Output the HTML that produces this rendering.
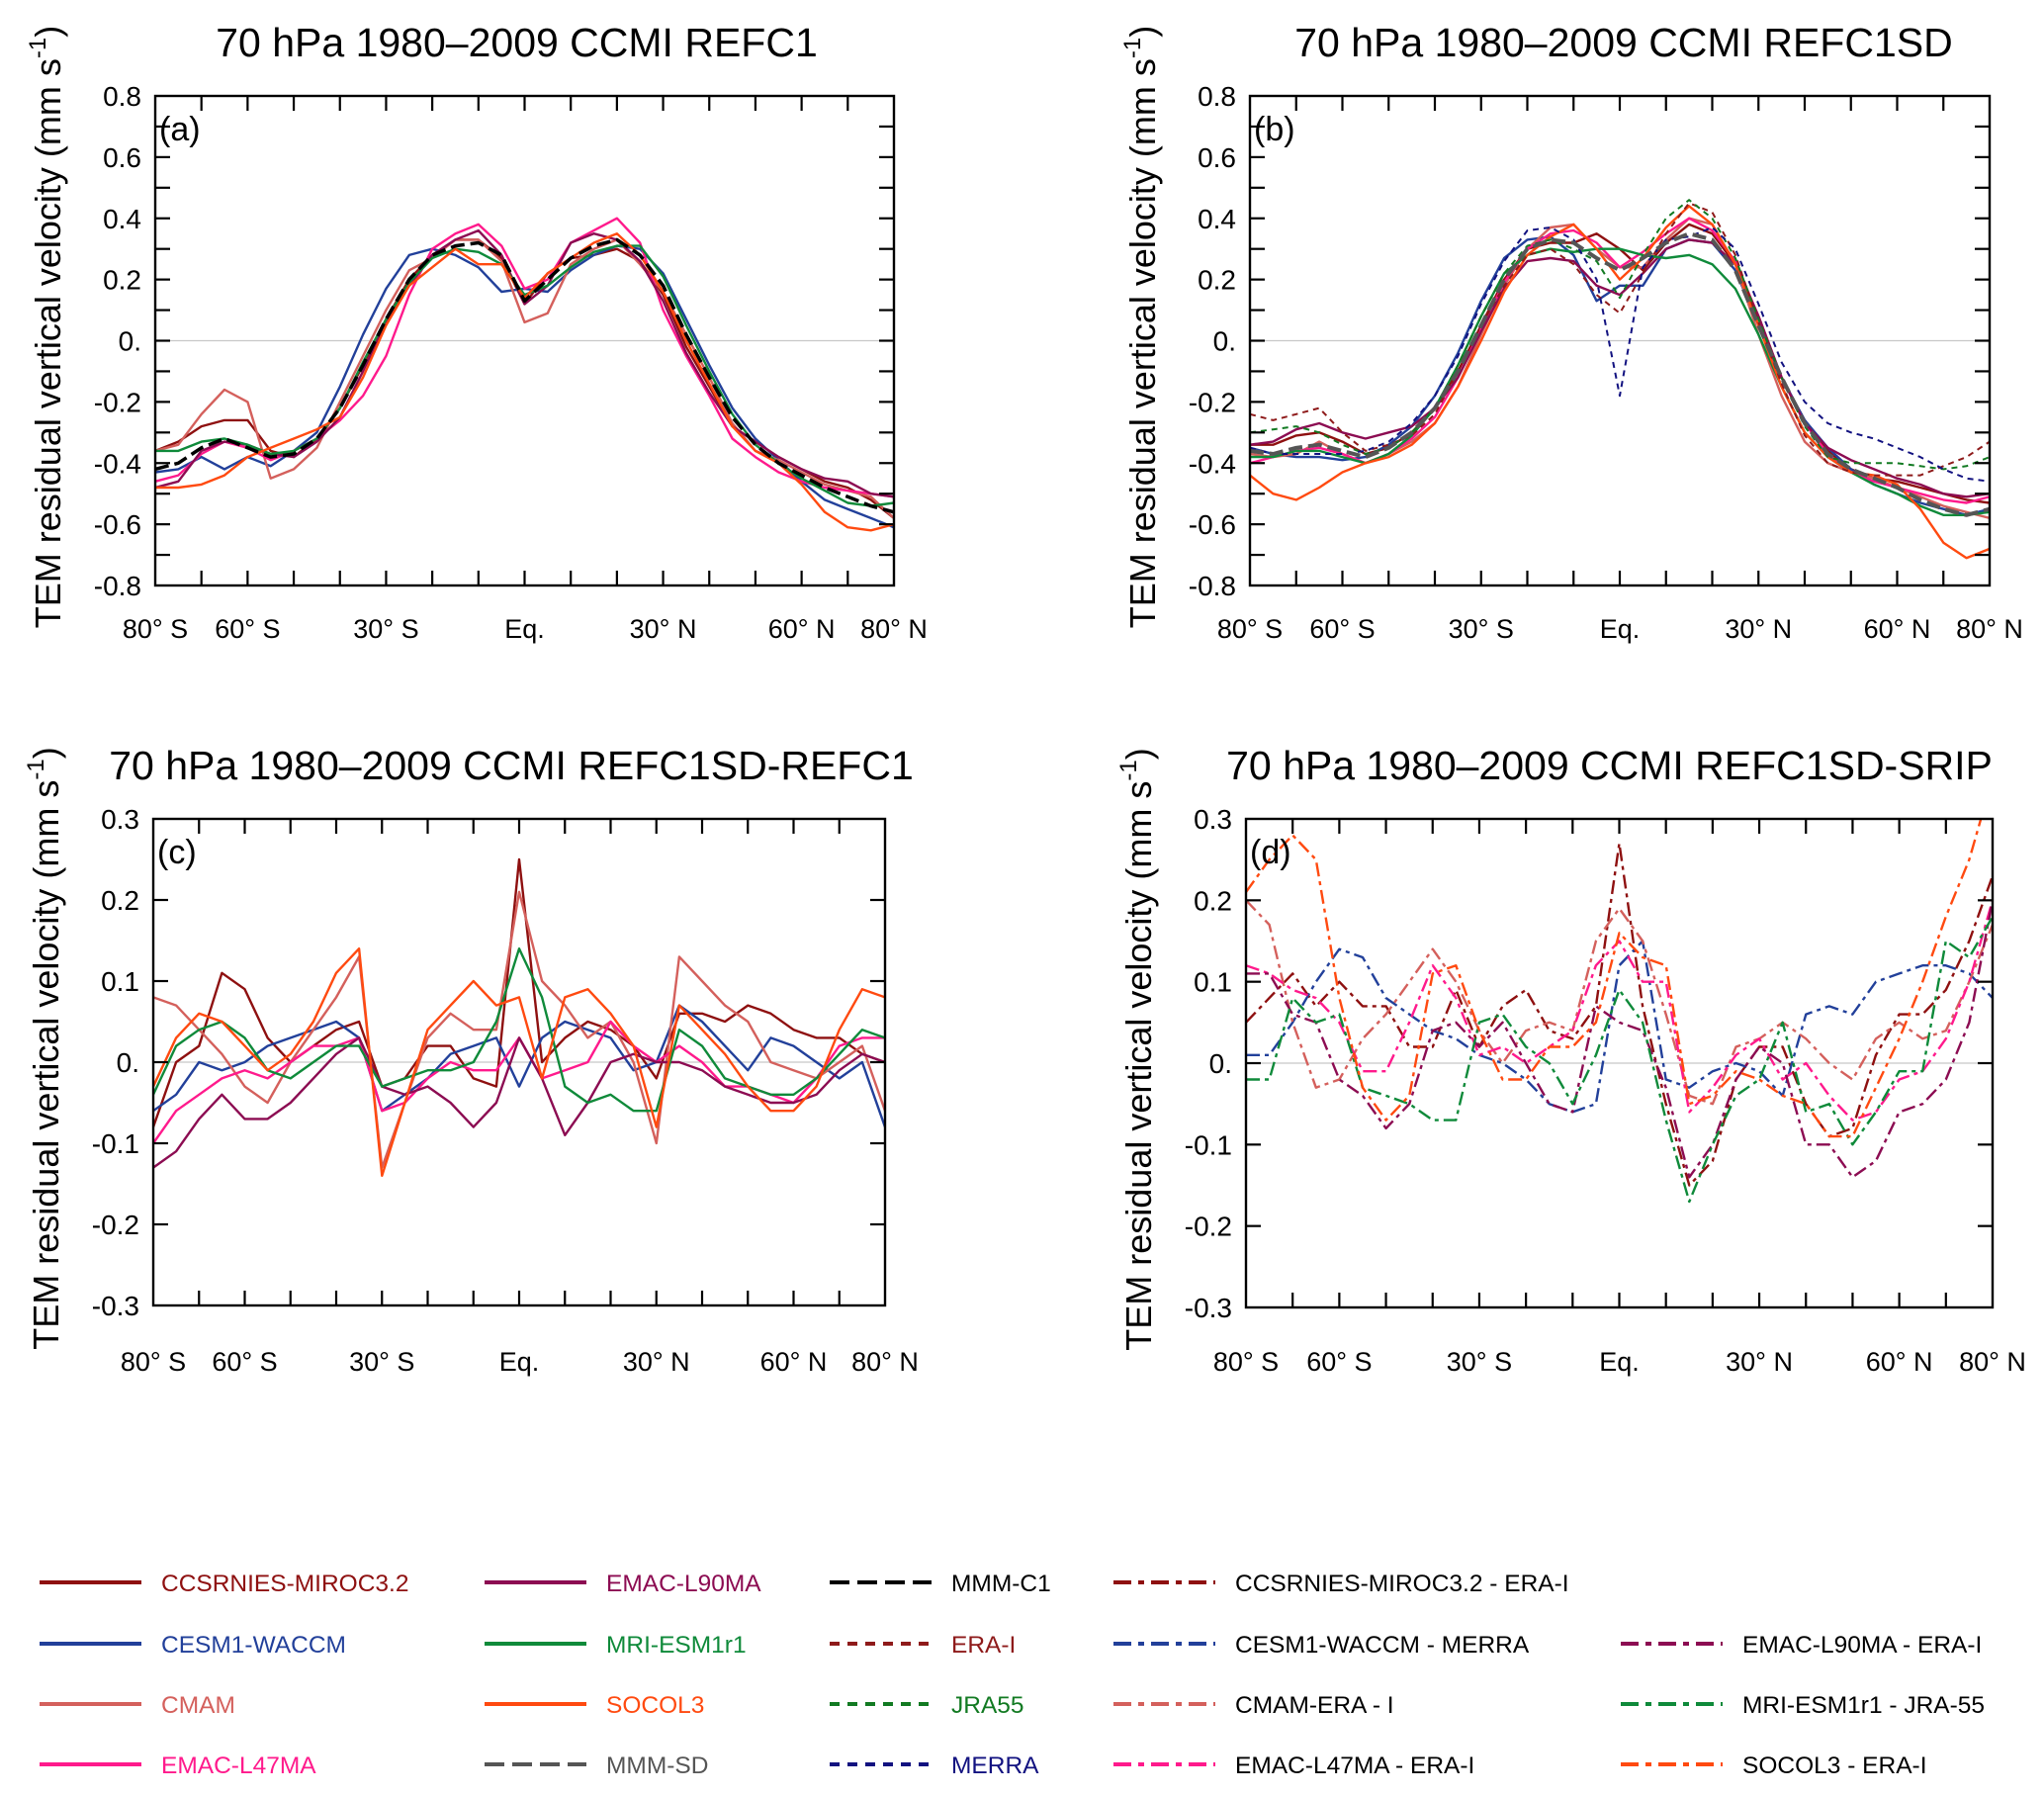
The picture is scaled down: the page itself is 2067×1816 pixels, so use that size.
<!DOCTYPE html>
<html><head><meta charset="utf-8">
<style>
html,body{margin:0;padding:0;background:#fff;}
svg{display:block;font-family:"Liberation Sans",Arial,sans-serif;}
</style></head>
<body>
<svg id="fig" width="2067" height="1816" viewBox="0 0 2067 1816" xmlns="http://www.w3.org/2000/svg"></svg>
<script>
// ---- data (values at 5° latitude steps from 80S to 80N) ----
const lats = [-80,-75,-70,-65,-60,-55,-50,-45,-40,-35,-30,-25,-20,-15,-10,-5,0,5,10,15,20,25,30,35,40,45,50,55,60,65,70,75,80];
const xTickLabels = ["80° S","60° S","30° S","Eq.","30° N","60° N","80° N"];
const xTickLats = [-80,-60,-30,0,30,60,80];
const yTicksAB = [0.8,0.6,0.4,0.2,0,-0.2,-0.4,-0.6,-0.8];
const yLabelsAB = ["0.8","0.6","0.4","0.2","0.","-0.2","-0.4","-0.6","-0.8"];
const yTicksCD = [0.3,0.2,0.1,0,-0.1,-0.2,-0.3];
const yLabelsCD = ["0.3","0.2","0.1","0.","-0.1","-0.2","-0.3"];

// panel a
const aCCSR = [-0.36,-0.33,-0.28,-0.26,-0.26,-0.36,-0.38,-0.32,-0.22,-0.08,0.07,0.20,0.28,0.33,0.33,0.27,0.12,0.22,0.27,0.28,0.30,0.26,0.15,-0.02,-0.15,-0.28,-0.33,-0.38,-0.42,-0.46,-0.48,-0.52,-0.58];
const aCESM = [-0.43,-0.42,-0.38,-0.42,-0.38,-0.41,-0.36,-0.30,-0.15,0.02,0.17,0.28,0.30,0.28,0.24,0.16,0.17,0.16,0.23,0.28,0.31,0.30,0.22,0.07,-0.08,-0.22,-0.32,-0.39,-0.46,-0.52,-0.55,-0.58,-0.61];
const aCMAM = [-0.36,-0.34,-0.24,-0.16,-0.20,-0.45,-0.42,-0.35,-0.20,-0.05,0.10,0.23,0.27,0.33,0.33,0.26,0.06,0.09,0.25,0.30,0.33,0.25,0.16,0.02,-0.12,-0.27,-0.36,-0.39,-0.43,-0.47,-0.49,-0.51,-0.58];
const aL47 = [-0.46,-0.44,-0.37,-0.33,-0.35,-0.39,-0.36,-0.32,-0.26,-0.18,-0.05,0.15,0.30,0.35,0.38,0.31,0.17,0.20,0.32,0.36,0.40,0.32,0.10,-0.05,-0.18,-0.32,-0.38,-0.43,-0.46,-0.48,-0.49,-0.50,-0.51];
const aL90 = [-0.48,-0.46,-0.36,-0.33,-0.34,-0.37,-0.38,-0.33,-0.25,-0.10,0.06,0.18,0.28,0.33,0.36,0.28,0.12,0.18,0.32,0.35,0.33,0.26,0.13,-0.04,-0.17,-0.28,-0.33,-0.38,-0.42,-0.45,-0.46,-0.50,-0.51];
const aMRI = [-0.36,-0.36,-0.33,-0.32,-0.34,-0.37,-0.36,-0.32,-0.22,-0.07,0.07,0.19,0.27,0.30,0.29,0.25,0.15,0.18,0.24,0.29,0.31,0.31,0.21,0.05,-0.10,-0.24,-0.34,-0.40,-0.45,-0.49,-0.53,-0.54,-0.53];
const aSOCOL = [-0.48,-0.48,-0.47,-0.44,-0.38,-0.35,-0.32,-0.29,-0.25,-0.12,0.05,0.18,0.24,0.30,0.25,0.25,0.14,0.22,0.27,0.32,0.35,0.28,0.16,0.00,-0.14,-0.28,-0.36,-0.40,-0.47,-0.56,-0.61,-0.62,-0.60];
const aMMM = [-0.42,-0.40,-0.35,-0.32,-0.35,-0.38,-0.37,-0.32,-0.22,-0.08,0.07,0.20,0.28,0.31,0.32,0.28,0.13,0.20,0.27,0.31,0.33,0.28,0.18,0.02,-0.12,-0.25,-0.34,-0.40,-0.44,-0.48,-0.51,-0.54,-0.56];

// panel b
const bCCSR = [-0.34,-0.34,-0.31,-0.30,-0.33,-0.37,-0.35,-0.30,-0.22,-0.10,0.05,0.20,0.30,0.32,0.32,0.35,0.30,0.23,0.32,0.38,0.35,0.25,0.08,-0.12,-0.26,-0.36,-0.42,-0.45,-0.46,-0.48,-0.50,-0.52,-0.53];
const bCESM = [-0.35,-0.37,-0.38,-0.38,-0.39,-0.38,-0.34,-0.28,-0.18,-0.04,0.13,0.27,0.33,0.34,0.28,0.13,0.18,0.18,0.30,0.33,0.32,0.23,0.05,-0.12,-0.26,-0.35,-0.42,-0.47,-0.50,-0.53,-0.55,-0.57,-0.55];
const bCMAM = [-0.37,-0.38,-0.37,-0.33,-0.37,-0.40,-0.37,-0.33,-0.27,-0.15,0.02,0.18,0.30,0.37,0.38,0.30,0.24,0.24,0.33,0.40,0.38,0.25,0.02,-0.18,-0.33,-0.40,-0.43,-0.45,-0.48,-0.51,-0.54,-0.56,-0.58];
const bL47 = [-0.40,-0.38,-0.36,-0.35,-0.37,-0.40,-0.37,-0.32,-0.25,-0.12,0.04,0.19,0.30,0.35,0.36,0.32,0.24,0.29,0.35,0.40,0.36,0.26,0.08,-0.12,-0.27,-0.37,-0.43,-0.46,-0.48,-0.50,-0.52,-0.53,-0.51];
const bL90 = [-0.34,-0.33,-0.29,-0.27,-0.30,-0.32,-0.30,-0.28,-0.22,-0.12,0.03,0.17,0.26,0.27,0.26,0.18,0.15,0.22,0.30,0.33,0.32,0.25,0.08,-0.12,-0.27,-0.35,-0.39,-0.42,-0.45,-0.47,-0.50,-0.51,-0.50];
const bMRI = [-0.38,-0.38,-0.36,-0.36,-0.38,-0.40,-0.37,-0.31,-0.22,-0.08,0.08,0.22,0.28,0.30,0.29,0.30,0.30,0.28,0.27,0.28,0.25,0.17,0.02,-0.15,-0.30,-0.38,-0.43,-0.47,-0.50,-0.54,-0.57,-0.57,-0.56];
const bSOCOL = [-0.44,-0.50,-0.52,-0.48,-0.43,-0.40,-0.38,-0.34,-0.27,-0.15,0.00,0.16,0.28,0.34,0.38,0.30,0.20,0.27,0.37,0.44,0.38,0.25,0.05,-0.15,-0.30,-0.38,-0.43,-0.44,-0.47,-0.55,-0.66,-0.71,-0.68];
const bERA = [-0.24,-0.26,-0.24,-0.22,-0.30,-0.36,-0.34,-0.31,-0.24,-0.10,0.05,0.18,0.28,0.30,0.25,0.15,0.09,0.22,0.35,0.45,0.42,0.28,0.06,-0.14,-0.31,-0.40,-0.43,-0.44,-0.44,-0.44,-0.41,-0.38,-0.33];
const bJRA = [-0.30,-0.29,-0.28,-0.30,-0.34,-0.37,-0.35,-0.30,-0.22,-0.08,0.08,0.22,0.31,0.33,0.30,0.26,0.14,0.28,0.40,0.46,0.40,0.27,0.07,-0.12,-0.28,-0.38,-0.40,-0.40,-0.40,-0.41,-0.42,-0.41,-0.38];
const bMERRA = [-0.35,-0.37,-0.37,-0.37,-0.37,-0.36,-0.33,-0.27,-0.18,-0.05,0.12,0.26,0.36,0.37,0.33,0.20,-0.18,0.24,0.33,0.34,0.37,0.30,0.12,-0.07,-0.20,-0.27,-0.30,-0.32,-0.35,-0.38,-0.42,-0.45,-0.46];
const bMMM = [-0.36,-0.37,-0.35,-0.34,-0.36,-0.38,-0.35,-0.30,-0.22,-0.10,0.05,0.20,0.30,0.33,0.32,0.27,0.23,0.27,0.32,0.35,0.33,0.23,0.05,-0.12,-0.27,-0.37,-0.42,-0.45,-0.48,-0.52,-0.55,-0.57,-0.55];

// panel c
const cCCSR = [-0.08,0.00,0.02,0.11,0.09,0.03,0.00,0.02,0.04,0.05,-0.03,-0.02,0.02,0.02,-0.02,-0.03,0.25,0.00,0.03,0.05,0.04,0.02,-0.02,0.06,0.06,0.05,0.07,0.06,0.04,0.03,0.03,0.01,0.00];
const cCESM = [-0.06,-0.04,0.00,-0.01,0.00,0.02,0.03,0.04,0.05,0.03,-0.06,-0.04,-0.02,0.01,0.02,0.03,-0.03,0.03,0.05,0.04,0.03,-0.01,0.00,0.07,0.05,0.02,-0.01,0.03,0.02,0.00,-0.02,0.00,-0.08];
const cCMAM = [0.08,0.07,0.04,0.01,-0.03,-0.05,0.00,0.04,0.08,0.13,-0.13,-0.05,0.03,0.06,0.04,0.04,0.21,0.10,0.07,0.03,0.05,0.00,-0.10,0.13,0.10,0.07,0.05,0.00,-0.01,-0.02,0.00,0.02,-0.06];
const cL47 = [-0.10,-0.06,-0.04,-0.02,-0.01,-0.02,0.00,0.02,0.02,0.03,-0.06,-0.05,-0.02,0.00,-0.01,-0.01,0.03,-0.02,-0.01,0.00,0.05,0.02,0.00,0.02,0.00,-0.03,-0.03,-0.04,-0.05,-0.02,0.02,0.03,0.03];
const cL90 = [-0.13,-0.11,-0.07,-0.04,-0.07,-0.07,-0.05,-0.02,0.01,0.03,-0.03,-0.04,-0.03,-0.05,-0.08,-0.05,0.03,-0.02,-0.09,-0.05,0.00,0.01,0.00,0.00,-0.01,-0.03,-0.04,-0.05,-0.05,-0.04,-0.01,0.01,0.00];
const cMRI = [-0.04,0.02,0.04,0.05,0.03,-0.01,-0.02,0.00,0.02,0.02,-0.03,-0.02,-0.01,-0.01,0.00,0.05,0.14,0.08,-0.03,-0.05,-0.04,-0.06,-0.06,0.04,0.02,-0.02,-0.03,-0.04,-0.04,-0.02,0.01,0.04,0.03];
const cSOCOL = [-0.03,0.03,0.06,0.05,0.02,-0.01,0.01,0.05,0.11,0.14,-0.14,-0.05,0.04,0.07,0.10,0.07,0.08,-0.02,0.08,0.09,0.06,0.02,-0.08,0.07,0.04,0.01,-0.03,-0.06,-0.06,-0.03,0.04,0.09,0.08];

// panel d
const dCCSR = [0.05,0.08,0.11,0.07,0.10,0.07,0.07,0.02,0.02,0.09,0.02,0.07,0.09,0.04,0.03,0.07,0.27,0.07,-0.05,-0.15,-0.12,-0.02,0.02,0.02,-0.05,-0.09,-0.08,0.01,0.06,0.06,0.09,0.15,0.23];
const dCESM = [0.01,0.01,0.05,0.10,0.14,0.13,0.08,0.06,0.04,0.03,0.01,0.00,-0.02,-0.05,-0.06,-0.05,0.12,0.15,-0.02,-0.03,-0.01,0.00,-0.01,-0.04,0.06,0.07,0.06,0.10,0.11,0.12,0.12,0.11,0.08];
const dCMAM = [0.20,0.17,0.05,-0.03,-0.02,0.03,0.06,0.10,0.14,0.10,0.04,0.00,0.04,0.05,0.04,0.15,0.19,0.15,0.06,-0.04,-0.05,0.02,0.03,0.05,0.03,0.00,-0.02,0.03,0.05,0.03,0.04,0.10,0.17];
const dL47 = [0.12,0.11,0.09,0.08,0.05,-0.01,-0.01,0.05,0.12,0.08,0.01,0.02,0.00,0.02,0.04,0.12,0.15,0.10,0.10,-0.06,-0.03,0.01,0.03,-0.02,0.00,-0.04,-0.07,-0.06,-0.02,-0.01,0.03,0.10,0.20];
const dL90 = [0.11,0.11,0.06,0.05,-0.02,-0.04,-0.08,-0.05,0.04,0.05,0.02,0.05,0.00,-0.05,-0.06,0.07,0.05,0.04,-0.03,-0.14,-0.10,-0.02,0.02,0.00,-0.10,-0.10,-0.14,-0.12,-0.06,-0.05,-0.02,0.05,0.20];
const dMRI = [-0.02,-0.02,0.08,0.05,0.06,-0.03,-0.04,-0.05,-0.07,-0.07,0.05,0.06,0.02,0.00,-0.05,0.01,0.09,0.05,-0.07,-0.17,-0.10,-0.04,-0.02,0.05,-0.06,-0.05,-0.10,-0.06,-0.01,-0.01,0.15,0.13,0.18];
const dSOCOL = [0.21,0.25,0.28,0.25,0.08,-0.03,-0.07,-0.04,0.11,0.12,0.04,-0.02,-0.02,0.02,0.02,0.05,0.16,0.13,0.12,-0.05,-0.04,-0.01,-0.02,-0.04,-0.05,-0.09,-0.09,-0.03,0.03,0.10,0.18,0.25,0.35];

// ---- drawing ----
const NS = "http://www.w3.org/2000/svg";
const svg = document.getElementById('fig');
const C = {ccsr:"#8e1010", cesm:"#22409a", cmam:"#d4605c", l47:"#ff1a8c", l90:"#8c0c52", mri:"#0f8a3a", socol:"#ff4a10", era:"#8e1a1a", jra:"#127a22", merra:"#121280"};
function mk(tag, attrs, parent){ const e=document.createElementNS(NS,tag); for(const k in attrs) e.setAttribute(k,attrs[k]); (parent||svg).appendChild(e); return e; }

function panel(id, box, ymin, ymax, yTicks, yLabels, tickStep, title, letter, seriesList){
  const g = mk('g',{});
  
  
  const X = v => box.x0 + (v+80)/160*(box.x1-box.x0);
  const Y = v => box.y1 - (v-ymin)/(ymax-ymin)*(box.y1-box.y0);
  const cp = mk('clipPath',{id:'clip'+id}, g);
  mk('rect',{x:box.x0,y:box.y0,width:box.x1-box.x0,height:box.y1-box.y0}, cp);
  const z = mk('line',{x1:box.x0,x2:box.x1,y1:Y(0),y2:Y(0),stroke:"#c8c8c8","stroke-width":1.2}, g);
   
  const sg = mk('g',{'clip-path':'url(#clip'+id+')'}, g);
  seriesList.forEach(s=>{
    let d=''; s.v.forEach((v,i)=>{ d += (i?'L':'M')+X(lats[i]).toFixed(1)+','+Y(v).toFixed(1); });
    const p = mk('path',{d:d,fill:'none',stroke:s.c,'stroke-width':s.w||2.4,'stroke-linejoin':'round'}, sg);
    if(s.dash) p.setAttribute('stroke-dasharray', s.dash);
    
    
  });
  const fr = mk('rect',{x:box.x0,y:box.y0,width:box.x1-box.x0,height:box.y1-box.y0,fill:'none',stroke:'#000','stroke-width':2.4}, g);
   
  for(let la=-70; la<=70; la+=10){
    mk('line',{x1:X(la),x2:X(la),y1:box.y0,y2:box.y0+15,stroke:'#000','stroke-width':2.2}, g);
    mk('line',{x1:X(la),x2:X(la),y1:box.y1,y2:box.y1-15,stroke:'#000','stroke-width':2.2}, g);
  }
  for(let v=ymin+tickStep; v<ymax-1e-6; v+=tickStep){
    mk('line',{x1:box.x0,x2:box.x0+15,y1:Y(v),y2:Y(v),stroke:'#000','stroke-width':2.2}, g);
    mk('line',{x1:box.x1,x2:box.x1-15,y1:Y(v),y2:Y(v),stroke:'#000','stroke-width':2.2}, g);
  }
  yTicks.forEach((v,i)=>{
    const t = mk('text',{x:box.x0-14,y:Y(v)+10,'text-anchor':'end','font-size':28}, g);
    t.textContent = yLabels[i];
     
  });
  xTickLats.forEach((la,i)=>{
    const t = mk('text',{x:X(la),y:box.y1+box.xl,'text-anchor':'middle','font-size':27}, g);
    t.textContent = xTickLabels[i];
     
  });
  const tt = mk('text',{x:(box.x0+box.x1)/2+box.tdx,y:box.y0-40,'text-anchor':'middle','font-size':41}, g);
  tt.textContent = title;
   
  const lt = mk('text',{x:box.x0+4,y:box.y0+45,'font-size':34}, g);
  lt.textContent = letter;
   
  const yt = mk('text',{transform:'translate('+(box.x0-96)+','+((box.y0+box.y1)/2-14)+') rotate(-90)','text-anchor':'middle','font-size':36}, g);
  yt.innerHTML = 'TEM residual vertical velocity (mm s<tspan font-size="24" dy="-15">-1</tspan><tspan dy="15">)</tspan>';
   
}

const DD = "14 5 4 5";
panel('a',{x0:157,x1:904,y0:97,y1:592,tdx:-8,xl:53},-0.8,0.8,yTicksAB,yLabelsAB,0.1,'70 hPa 1980\u20132009 CCMI REFC1','(a)',[
 {n:'ccsrnies-miroc3-line',c:C.ccsr,v:aCCSR},{n:'cesm1-waccm-line',c:C.cesm,v:aCESM},{n:'cmam-line',c:C.cmam,v:aCMAM},
 {n:'emac-l47ma-line',c:C.l47,v:aL47},{n:'emac-l90ma-line',c:C.l90,v:aL90},{n:'mri-esm1r1-line',c:C.mri,v:aMRI},
 {n:'socol3-line',c:C.socol,v:aSOCOL},{n:'mmm-c1-line',c:'#000',v:aMMM,w:3.5,dash:'14 6'}]);
panel('b',{x0:1264,x1:2012,y0:97,y1:592,tdx:4,xl:53},-0.8,0.8,yTicksAB,yLabelsAB,0.1,'70 hPa 1980\u20132009 CCMI REFC1SD','(b)',[
 {n:'ccsrnies-miroc3-line',c:C.ccsr,v:bCCSR},{n:'cesm1-waccm-line',c:C.cesm,v:bCESM},{n:'cmam-line',c:C.cmam,v:bCMAM},
 {n:'emac-l47ma-line',c:C.l47,v:bL47},{n:'emac-l90ma-line',c:C.l90,v:bL90},{n:'mri-esm1r1-line',c:C.mri,v:bMRI},
 {n:'socol3-line',c:C.socol,v:bSOCOL},{n:'era-i-line',c:C.era,v:bERA,dash:'6 5',w:2},{n:'jra55-line',c:C.jra,v:bJRA,dash:'6 5',w:2},
 {n:'merra-line',c:C.merra,v:bMERRA,dash:'6 5',w:2},{n:'mmm-sd-line',c:'#555',v:bMMM,w:4,dash:'14 6'}]);
panel('c',{x0:155,x1:895,y0:828,y1:1320,tdx:-8,xl:66},-0.3,0.3,yTicksCD,yLabelsCD,0.1,'70 hPa 1980\u20132009 CCMI REFC1SD-REFC1','(c)',[
 {n:'ccsrnies-miroc3-diff-line',c:C.ccsr,v:cCCSR},{n:'cesm1-waccm-diff-line',c:C.cesm,v:cCESM},{n:'cmam-diff-line',c:C.cmam,v:cCMAM},
 {n:'emac-l47ma-diff-line',c:C.l47,v:cL47},{n:'emac-l90ma-diff-line',c:C.l90,v:cL90},{n:'mri-esm1r1-diff-line',c:C.mri,v:cMRI},
 {n:'socol3-diff-line',c:C.socol,v:cSOCOL}]);
panel('d',{x0:1260,x1:2015,y0:828,y1:1322,tdx:-10,xl:64},-0.3,0.3,yTicksCD,yLabelsCD,0.1,'70 hPa 1980\u20132009 CCMI REFC1SD-SRIP','(d)',[
 {n:'ccsrnies-era-i-line',c:C.ccsr,v:dCCSR,dash:DD},{n:'cesm1-merra-line',c:C.cesm,v:dCESM,dash:DD},{n:'cmam-era-i-line',c:C.cmam,v:dCMAM,dash:DD},
 {n:'emac-l47ma-era-i-line',c:C.l47,v:dL47,dash:DD},{n:'emac-l90ma-era-i-line',c:C.l90,v:dL90,dash:DD},{n:'mri-jra55-line',c:C.mri,v:dMRI,dash:DD},
 {n:'socol3-era-i-line',c:C.socol,v:dSOCOL,dash:DD}]);

// ---- legend ----
const legCols = [40,490,839,1126,1639];
const legRows = [1600,1662,1723,1784];
const legendItems = [
 [0,0,'CCSRNIES-MIROC3.2',C.ccsr,C.ccsr,null],[0,1,'CESM1-WACCM',C.cesm,C.cesm,null],[0,2,'CMAM',C.cmam,C.cmam,null],[0,3,'EMAC-L47MA',C.l47,C.l47,null],
 [1,0,'EMAC-L90MA',C.l90,C.l90,null],[1,1,'MRI-ESM1r1',C.mri,C.mri,null],[1,2,'SOCOL3',C.socol,C.socol,null],[1,3,'MMM-SD','#555','#555','20 8'],
 [2,0,'MMM-C1','#000','#000','20 8'],[2,1,'ERA-I',C.era,C.era,'10 8'],[2,2,'JRA55',C.jra,C.jra,'10 8'],[2,3,'MERRA',C.merra,C.merra,'10 8'],
 [3,0,'CCSRNIES-MIROC3.2 - ERA-I',C.ccsr,'#000',DD],[3,1,'CESM1-WACCM - MERRA',C.cesm,'#000',DD],[3,2,'CMAM-ERA - I',C.cmam,'#000',DD],[3,3,'EMAC-L47MA - ERA-I',C.l47,'#000',DD],
 [4,1,'EMAC-L90MA - ERA-I',C.l90,'#000',DD],[4,2,'MRI-ESM1r1 - JRA-55',C.mri,'#000',DD],[4,3,'SOCOL3 - ERA-I',C.socol,'#000',DD]
];
const lg = mk('g',{});


legendItems.forEach(it=>{
  const x=legCols[it[0]], y=legRows[it[1]];
  const ln = mk('line',{x1:x,x2:x+103,y1:y,y2:y,stroke:it[3],'stroke-width':4}, lg);
  if(it[5]) ln.setAttribute('stroke-dasharray', it[5]==DD?'18 7 6 7':it[5]);
   
  const t = mk('text',{x:x+123,y:y+9,'font-size':24.5,fill:it[4]}, lg);
  t.textContent = it[2];
   
});
</script>
</body></html>
